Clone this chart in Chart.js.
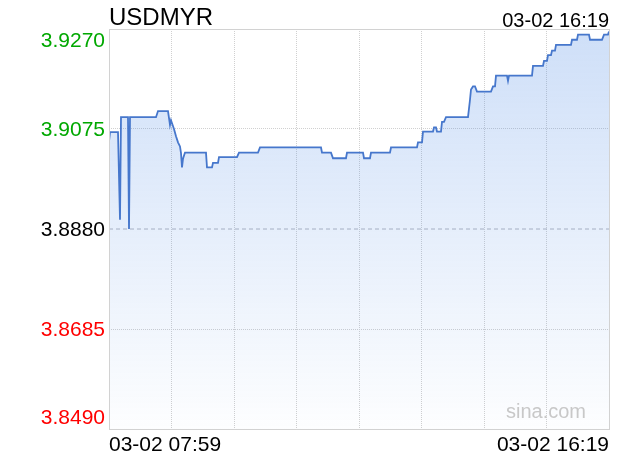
<!DOCTYPE html>
<html>
<head>
<meta charset="utf-8">
<script src="https://cdn.jsdelivr.net/npm/chart.js@4/dist/chart.umd.min.js"></script>
<style>
  html, body { margin: 0; padding: 0; background: #fff; }
  canvas { display: block; }
</style>
</head>
<body>
<canvas id="fxChart" width="620" height="460"></canvas>
<script>
// === Data ===
const symbol = "USDMYR";
const tradeDate = "03-02";
const startTime = "07:59";
const endTime = "16:19";
const prevClose = 3.8880;
const yTicks = [3.9270, 3.9075, 3.8880, 3.8685, 3.8490];

const times = [
  "07:59", "08:00", "08:08", "08:10", "08:11", "08:18", "08:19", "08:20", "08:46", "08:48",
  "08:58", "09:00", "09:01", "09:04", "09:06", "09:08", "09:10", "09:11", "09:12", "09:13",
  "09:15", "09:36", "09:37", "09:42", "09:43", "09:48", "09:49", "10:07", "10:09", "10:28",
  "10:30", "11:31", "11:32", "11:41", "11:43", "11:56", "11:57", "12:13", "12:14", "12:20",
  "12:21", "12:40", "12:41", "13:07", "13:08", "13:12", "13:13", "13:23", "13:24", "13:26",
  "13:27", "13:31", "13:32", "13:34", "13:36", "13:58", "14:00", "14:01", "14:03", "14:05",
  "14:07", "14:21", "14:23", "14:25", "14:26", "14:37", "14:38", "14:39", "15:02", "15:03",
  "15:13", "15:14", "15:17", "15:18", "15:21", "15:22", "15:25", "15:26", "15:41", "15:42",
  "15:47", "15:48", "15:59", "16:00", "16:12", "16:14", "16:18", "16:19"
];
const prices = [
  3.9051, 3.9069, 3.9069, 3.8898, 3.9098, 3.9098, 3.8880, 3.9098, 3.9098, 3.9110,
  3.9110, 3.9083, 3.9092, 3.9075, 3.9061, 3.9049, 3.9041, 3.9028, 3.9000, 3.9017,
  3.9029, 3.9029, 3.9000, 3.9000, 3.9009, 3.9009, 3.9020, 3.9020, 3.9029, 3.9029,
  3.9039, 3.9039, 3.9029, 3.9029, 3.9018, 3.9018, 3.9029, 3.9029, 3.9018, 3.9018,
  3.9029, 3.9029, 3.9039, 3.9039, 3.9049, 3.9049, 3.9070, 3.9070, 3.9078, 3.9078,
  3.9070, 3.9070, 3.9089, 3.9089, 3.9098, 3.9098, 3.9132, 3.9152, 3.9158, 3.9158,
  3.9148, 3.9148, 3.9158, 3.9158, 3.9179, 3.9179, 3.9169, 3.9179, 3.9179, 3.9198,
  3.9198, 3.9208, 3.9208, 3.9219, 3.9219, 3.9228, 3.9228, 3.9239, 3.9239, 3.9249,
  3.9249, 3.9259, 3.9259, 3.9249, 3.9249, 3.9259, 3.9259, 3.9265
];

const FONT = "'Liberation Sans', Arial, Helvetica, sans-serif";

// "HH:MM" -> menit
function toMin(t) {
  const [h, m] = t.split(":").map(Number);
  return h * 60 + m;
}
const t0 = toMin(startTime);
const span = toMin(endTime) - t0;

// === Teks, label sumbu Y dan bingkai ===
const framePlugin = {
  id: "frame",
  afterDraw(chart) {
    const { ctx, chartArea: a, scales: { y } } = chart;
    ctx.save();

    ctx.strokeStyle = "#d2d2d2";
    ctx.lineWidth = 1;
    ctx.strokeRect(a.left + 0.5, a.top + 0.5, a.right - a.left, a.bottom - a.top);

    // label harga kiri
    ctx.font = `21px ${FONT}`;
    ctx.textAlign = "right";
    ctx.textBaseline = "alphabetic";
    yTicks.forEach((v, i) => {
      const py = y.getPixelForValue(v);
      let base = py + 7;
      if (i === 0) base = py + 18;
      else if (i === yTicks.length - 1) base = py - 5;
      if (v > prevClose + 1e-9) ctx.fillStyle = "#00a800";
      else if (v < prevClose - 1e-9) ctx.fillStyle = "#ff0000";
      else ctx.fillStyle = "#000";
      ctx.fillText(v.toFixed(4), 105, base);
    });

    // judul + waktu terakhir
    ctx.fillStyle = "#000";
    ctx.textAlign = "left";
    ctx.font = `24px ${FONT}`;
    ctx.fillText(symbol, 109, 25);
    ctx.textAlign = "right";
    ctx.font = `20px ${FONT}`;
    ctx.fillText(`${tradeDate} ${endTime}`, 609, 27);

    // watermark
    ctx.fillStyle = "#c8c8c8";
    ctx.font = `20px ${FONT}`;
    ctx.fillText("sina.com", 586, 418);

    ctx.restore();
  }
};

const ctx = document.getElementById("fxChart").getContext("2d");
const fxChart = new Chart(ctx, {
  type: "line",
  data: {
    datasets: [{
      data: times.map((t, i) => ({ x: toMin(t) - t0, y: prices[i] })),
      borderColor: "#4677cc",
      borderWidth: 1.8,
      pointRadius: 0,
      tension: 0,
      fill: "start",
      backgroundColor: (c) => {
        const a = c.chart.chartArea;
        if (!a) return "rgba(80,140,230,0.15)";
        const g = c.chart.ctx.createLinearGradient(0, a.top, 0, a.bottom);
        g.addColorStop(0, "rgba(80,140,230,0.28)");
        g.addColorStop(1, "rgba(80,140,230,0.01)");
        return g;
      }
    }, {
      // garis harga penutupan sebelumnya
      data: [{ x: 0, y: prevClose }, { x: span, y: prevClose }],
      borderColor: "#a4aec2",
      borderWidth: 1,
      borderDash: [4, 3],
      pointRadius: 0,
      fill: false,
      order: -1
    }]
  },
  options: {
    responsive: false,
    animation: false,
    events: [],
    layout: { padding: { top: 29, right: 11, left: 0, bottom: 0 } },
    plugins: { legend: { display: false }, tooltip: { enabled: false } },
    scales: {
      x: {
        type: "linear",
        min: 0,
        max: span,
        afterBuildTicks: (s) => {
          s.ticks = [];
          for (let i = 0; i <= 8; i++) s.ticks.push({ value: span * i / 8 });
        },
        afterFit: (s) => { s.height = 31; },
        grid: { color: "#d0d0d0", drawTicks: false },
        border: { display: false, dash: [1, 1] },
        ticks: {
          autoSkip: false,
          maxRotation: 0,
          align: "inner",
          padding: 4,
          color: "#000",
          font: { family: FONT, size: 21 },
          callback: (v, i, ts) => {
            if (i === 0) return `${tradeDate} ${startTime}`;
            if (i === ts.length - 1) return `${tradeDate} ${endTime}`;
            return "";
          }
        }
      },
      y: {
        min: Math.min(...yTicks),
        max: Math.max(...yTicks),
        afterBuildTicks: (s) => { s.ticks = yTicks.map(v => ({ value: v })); },
        afterFit: (s) => { s.width = 109; },
        grid: {
          color: (c) => Math.abs(c.tick.value - prevClose) < 1e-6 ? "rgba(0,0,0,0)" : "#d0d0d0",
          drawTicks: false
        },
        border: { display: false, dash: [1, 1] },
        ticks: { display: false }
      }
    }
  },
  plugins: [framePlugin]
});
</script>
</body>
</html>
